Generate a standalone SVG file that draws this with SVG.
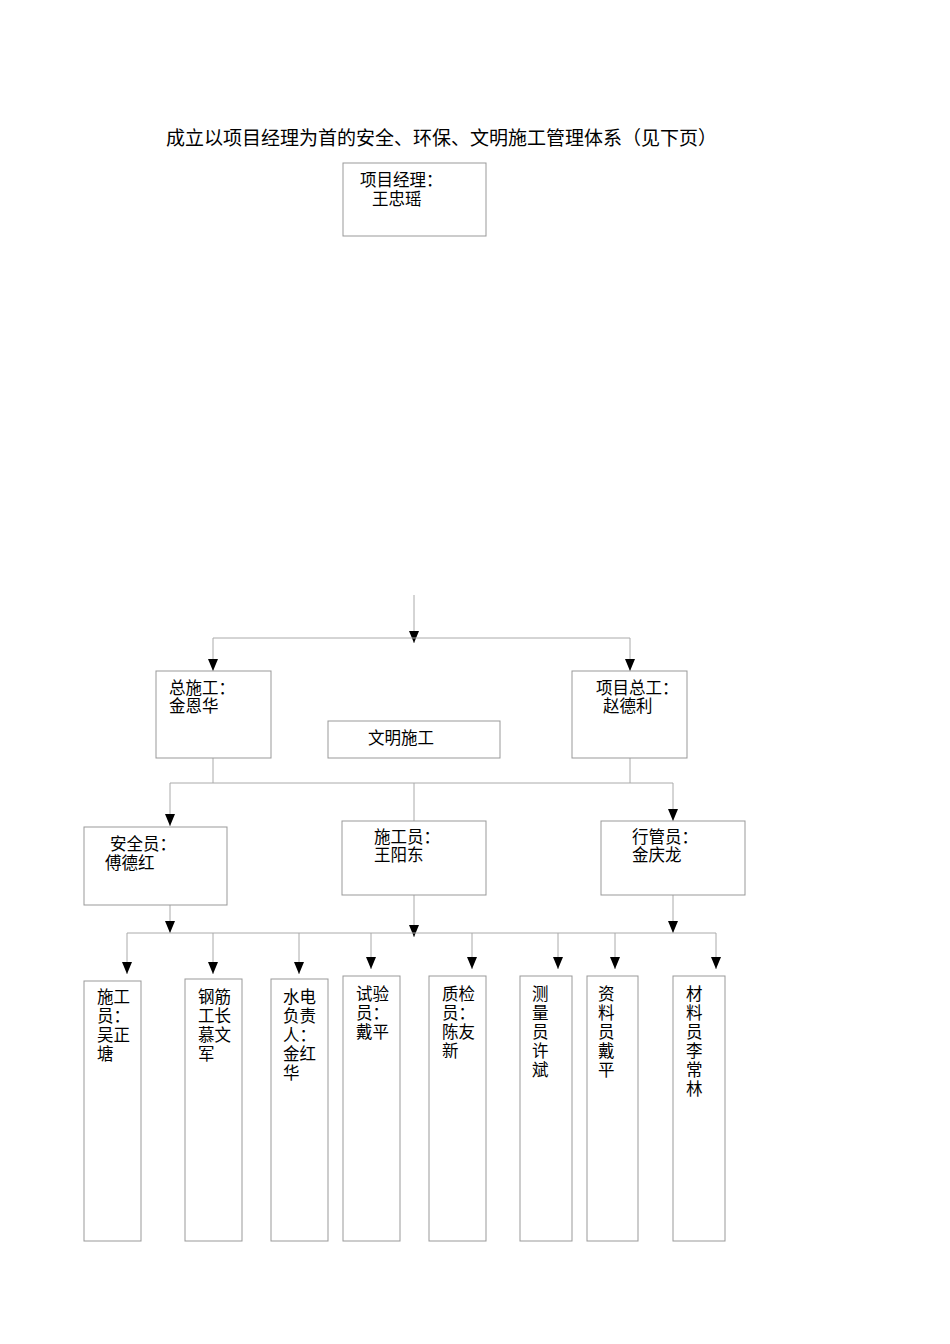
<svg xmlns="http://www.w3.org/2000/svg" width="950" height="1344" viewBox="0 0 950 1344">
<style>
text{font-family:"Liberation Serif","Noto Sans CJK SC",serif;font-size:16.5px;fill:#000}
.t{font-size:19px}
.b{fill:#fff;stroke:#999;stroke-width:1}
.c{stroke:#aaa;stroke-width:1;fill:none}
</style>
<defs><marker id="a" viewBox="0 0 12 10" refX="12" refY="5" markerWidth="12" markerHeight="10" markerUnits="userSpaceOnUse" orient="auto"><path d="M0,0L12,5L0,10z" fill="#000"/></marker></defs>
<rect width="950" height="1344" fill="#fff"/>
<text class="t" x="166" y="145">成立以项目经理为首的安全、环保、文明施工管理体系（见下页）</text>
<g id="connectors">
<path class="c" d="M414,595V643" marker-end="url(#a)"/>
<path class="c" d="M213,638H630"/>
<path class="c" d="M213,638V671" marker-end="url(#a)"/>
<path class="c" d="M630,638V671" marker-end="url(#a)"/>
<path class="c" d="M213,758V783M630,758V783M170,783H673M414,783V821"/>
<path class="c" d="M170,783V826" marker-end="url(#a)"/>
<path class="c" d="M673,783V821" marker-end="url(#a)"/>
<path class="c" d="M170,905V933" marker-end="url(#a)"/>
<path class="c" d="M414,895V937" marker-end="url(#a)"/>
<path class="c" d="M673,895V933" marker-end="url(#a)"/>
<path class="c" d="M127,933H716"/>
<path class="c" d="M127,933V974" marker-end="url(#a)"/>
<path class="c" d="M213,933V974" marker-end="url(#a)"/>
<path class="c" d="M299,933V974" marker-end="url(#a)"/>
<path class="c" d="M371,933V969" marker-end="url(#a)"/>
<path class="c" d="M472,933V969" marker-end="url(#a)"/>
<path class="c" d="M558,933V969" marker-end="url(#a)"/>
<path class="c" d="M615,933V969" marker-end="url(#a)"/>
<path class="c" d="M716,933V969" marker-end="url(#a)"/>
</g>
<g id="pm"><rect class="b" x="343" y="163" width="143" height="73"/><text x="360" y="186">项目经理：</text><text x="372" y="205">王忠瑶</text></g>
<g id="zsg"><rect class="b" x="156" y="671" width="115" height="87"/><text x="169" y="694">总施工：</text><text x="169" y="712">金恩华</text></g>
<g id="xmzg"><rect class="b" x="572" y="671" width="115" height="87"/><text x="596" y="694">项目总工：</text><text x="603" y="712">赵德利</text></g>
<g id="wmsg"><rect class="b" x="328" y="721" width="172" height="37"/><text x="368" y="744">文明施工</text></g>
<g id="aqy"><rect class="b" x="84" y="827" width="143" height="78"/><text x="110" y="850">安全员：</text><text x="105" y="869">傅德红</text></g>
<g id="sgy"><rect class="b" x="342" y="821" width="144" height="74"/><text x="374" y="843">施工员：</text><text x="374" y="861">王阳东</text></g>
<g id="xgy"><rect class="b" x="601" y="821" width="144" height="74"/><text x="632" y="843">行管员：</text><text x="632" y="861">金庆龙</text></g>
<g id="b1"><rect class="b" x="84" y="981" width="57" height="260"/><text x="97" y="1003">施工</text><text x="97" y="1022">员：</text><text x="97" y="1041">吴正</text><text x="97" y="1060">塘</text></g>
<g id="b2"><rect class="b" x="185" y="979" width="57" height="262"/><text x="198" y="1003">钢筋</text><text x="198" y="1022">工长</text><text x="198" y="1041">慕文</text><text x="198" y="1060">军</text></g>
<g id="b3"><rect class="b" x="271" y="979" width="57" height="262"/><text x="283" y="1003">水电</text><text x="283" y="1022">负责</text><text x="283" y="1041">人：</text><text x="283" y="1060">金红</text><text x="283" y="1079">华</text></g>
<g id="b4"><rect class="b" x="343" y="976" width="57" height="265"/><text x="356" y="1000">试验</text><text x="356" y="1019">员：</text><text x="356" y="1038">戴平</text></g>
<g id="b5"><rect class="b" x="429" y="976" width="57" height="265"/><text x="442" y="1000">质检</text><text x="442" y="1019">员：</text><text x="442" y="1038">陈友</text><text x="442" y="1057">新</text></g>
<g id="b6"><rect class="b" x="520" y="976" width="52" height="265"/><text x="532" y="1000">测</text><text x="532" y="1019">量</text><text x="532" y="1038">员</text><text x="532" y="1057">许</text><text x="532" y="1076">斌</text></g>
<g id="b7"><rect class="b" x="587" y="976" width="51" height="265"/><text x="598" y="1000">资</text><text x="598" y="1019">料</text><text x="598" y="1038">员</text><text x="598" y="1057">戴</text><text x="598" y="1076">平</text></g>
<g id="b8"><rect class="b" x="673" y="976" width="52" height="265"/><text x="686" y="1000">材</text><text x="686" y="1019">料</text><text x="686" y="1038">员</text><text x="686" y="1057">李</text><text x="686" y="1076">常</text><text x="686" y="1095">林</text></g>
</svg>
